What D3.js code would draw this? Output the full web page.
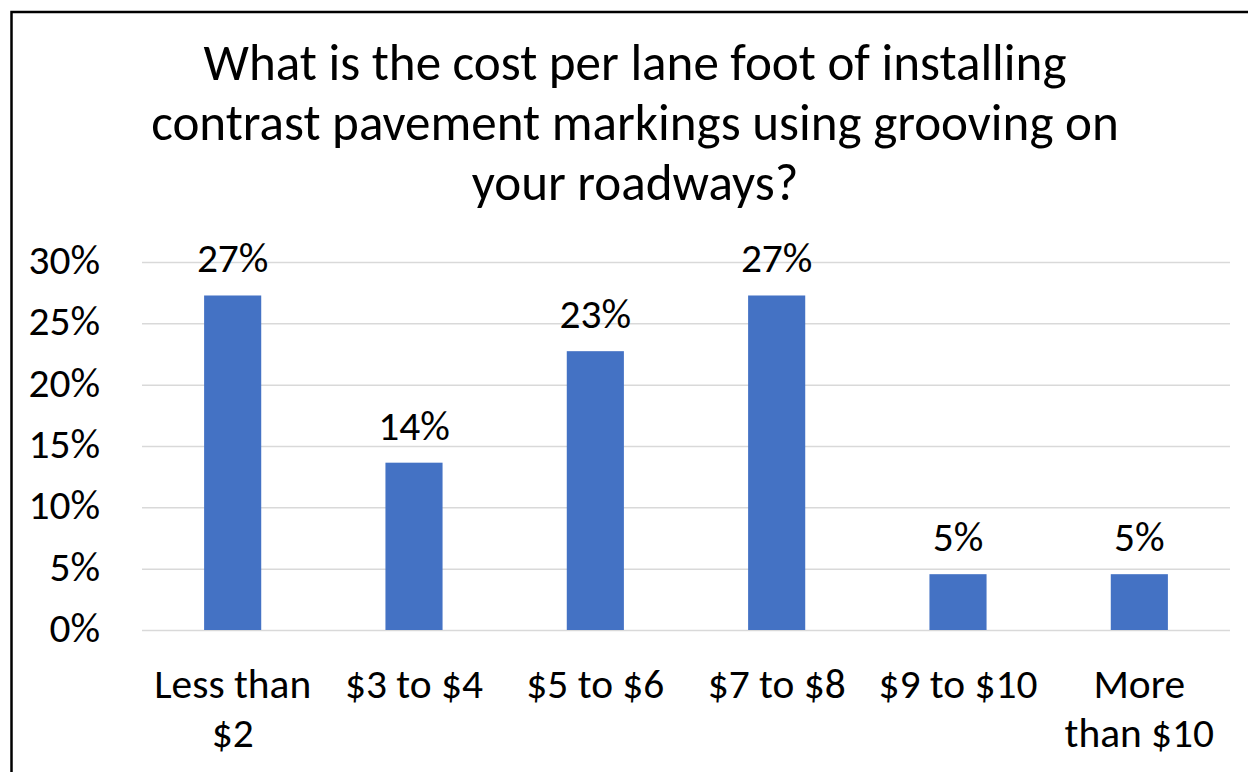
<!DOCTYPE html>
<html><head><meta charset="utf-8">
<script src="https://cdn.jsdelivr.net/npm/d3@7"></script>
<style>body{margin:0;background:#fff;overflow:hidden}svg{display:block}text{font-family:Calibri,Carlito,Lato,sans-serif;fill:#000}</style>
</head><body>
<svg id="c" width="1248" height="772"></svg>
<script>
const titleLines = ["What is the cost per lane foot of installing","contrast pavement markings using grooving on","your roadways?"];
const categories = [["Less than","$2"],["$3 to $4"],["$5 to $6"],["$7 to $8"],["$9 to $10"],["More","than $10"]];
const values = [0.2727,0.1364,0.2273,0.2727,0.0455,0.0455];
const dataLabels = ["27%","14%","23%","27%","5%","5%"];
const yTicks = [0,0.05,0.10,0.15,0.20,0.25,0.30];

const svg = d3.select("#c");
svg.append("rect").attr("x",11.5).attr("y",12).attr("width",1300).attr("height",900)
  .attr("fill","#fff").attr("stroke","#000").attr("stroke-width",2.5);

function fitSize(str, target){
  const t = svg.append("text").attr("font-size",100).text(str);
  const w = t.node().getComputedTextLength(); t.remove();
  return 100*target/w;
}
const titleSize = fitSize(titleLines[1], 968);
const labelSize = fitSize("Less than", 157);

const x = d3.scaleBand().domain(d3.range(categories.length)).range([142,1230]).paddingInner(0.685).paddingOuter(0.3425);
const y = d3.scaleLinear().domain([0,0.30]).range([630,262]);

const titleG = svg.append("g");
titleLines.forEach((l,i)=>titleG.append("text").attr("x",635).attr("y",80+i*60)
  .attr("text-anchor","middle").attr("font-size",titleSize).text(l));

const yAxis = svg.append("g").attr("transform","translate(142,0)")
  .call(d3.axisLeft(y).tickValues(yTicks).tickFormat(d3.format(".0%")).tickSize(-1088).tickPadding(42));
yAxis.select(".domain").remove();
yAxis.selectAll(".tick line").attr("stroke","#d9d9d9").attr("stroke-width",1.5);
yAxis.selectAll(".tick text").attr("font-size",labelSize).attr("font-family",null).attr("dy","0.28em").attr("fill","#000");

svg.append("g").selectAll("rect").data(values).join("rect")
  .attr("x",(d,i)=>x(i)).attr("width",x.bandwidth())
  .attr("y",d=>y(d)).attr("height",d=>y(0)-y(d)).attr("fill","#4472c4");

svg.append("g").selectAll("text").data(values).join("text")
  .attr("x",(d,i)=>x(i)+x.bandwidth()/2).attr("y",d=>y(d)-23)
  .attr("text-anchor","middle").attr("font-size",labelSize).text((d,i)=>dataLabels[i]);

const catG = svg.append("g");
categories.forEach((lines,i)=>{
  lines.forEach((l,j)=>catG.append("text").attr("x",x(i)+x.bandwidth()/2).attr("y",698+j*49)
    .attr("text-anchor","middle").attr("font-size",labelSize).text(l));
});
</script>
</body></html>
